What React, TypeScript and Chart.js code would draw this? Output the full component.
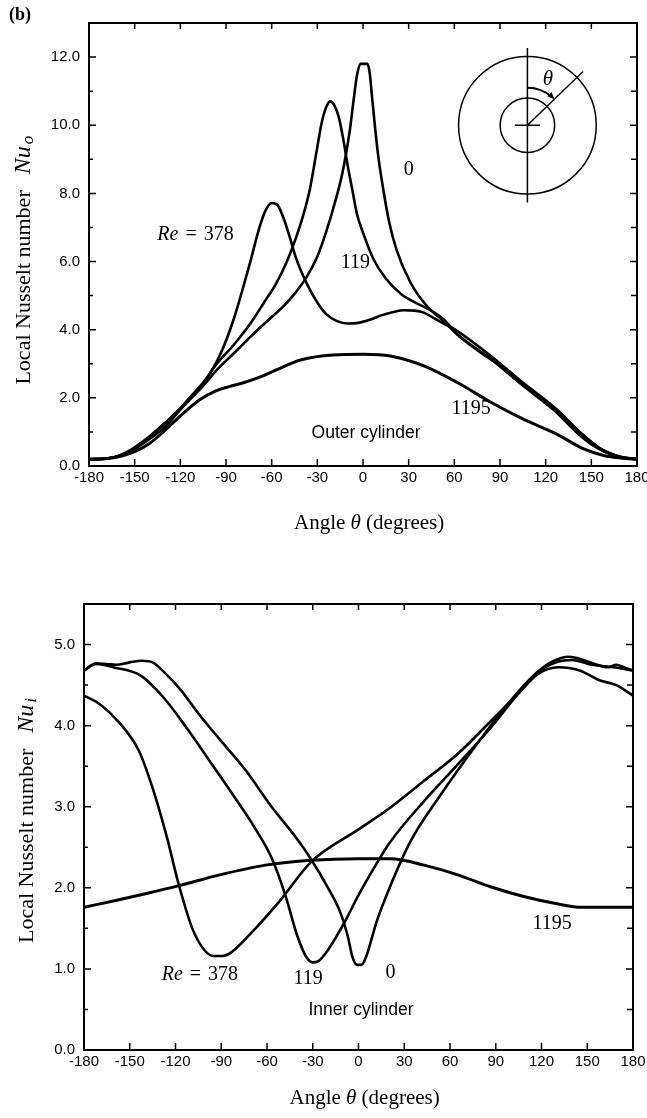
import React, { useEffect, useRef } from "react";
import { Chart, registerables } from "chart.js";

Chart.register(...registerables);

type Pt = [number, number];

// ---------- axis ticks ----------
const angleTicks = [-180, -150, -120, -90, -60, -30, 0, 30, 60, 90, 120, 150, 180];
const outerYMajor = [0, 2, 4, 6, 8, 10, 12];
const outerYMinor = [1, 3, 5, 7, 9, 11];
const innerYMajor = [0, 1, 2, 3, 4, 5];
const innerYMinor = [0.5, 1.5, 2.5, 3.5, 4.5];

// ---------- outer cylinder: local Nusselt number vs angle ----------
const outerRe0: Pt[] = [
  [-180, 0.2], [-168, 0.22], [-158, 0.33], [-150, 0.52], [-140, 0.85], [-130, 1.25], [-122, 1.6],
  [-114, 1.94], [-105, 2.35], [-96, 2.82], [-85, 3.3], [-74, 3.79], [-63, 4.25], [-52, 4.7],
  [-45, 5.05], [-37, 5.55], [-30, 6.15], [-24, 6.9], [-18, 7.8], [-14, 8.5], [-11, 9.2],
  [-8.5, 9.9], [-6, 10.8], [-4, 11.45], [-1.5, 11.8], [3, 11.8], [4.5, 11.5], [6, 10.8],
  [8, 9.9], [10, 9.1], [13, 8.2], [17, 7.2], [22, 6.35], [31, 5.4], [42, 4.69], [53, 4.25],
  [62, 3.85], [75, 3.4], [90, 2.94], [112, 2.16], [132, 1.43], [145, 0.9], [158, 0.46], [170, 0.26],
  [180, 0.2],
];
const outerRe119: Pt[] = [
  [-180, 0.2], [-168, 0.22], [-158, 0.35], [-150, 0.55], [-140, 0.88], [-130, 1.27], [-122, 1.6],
  [-114, 2.0], [-105, 2.45], [-96, 3.0], [-85, 3.55], [-74, 4.18], [-65, 4.8], [-57, 5.36],
  [-50, 6.0], [-44, 6.7], [-39, 7.4], [-35, 8.1], [-31, 9.1], [-27, 10.1], [-24, 10.55],
  [-21.5, 10.7], [-19, 10.6], [-16, 10.25], [-13, 9.6], [-10, 8.8], [-7, 8.1], [-4, 7.4],
  [0, 6.85], [7, 6.06], [15, 5.5], [25, 5.05], [35, 4.78], [44, 4.58], [53, 4.3], [62, 3.87],
  [84, 3.14], [105, 2.36], [127, 1.58], [140, 1.0], [153, 0.55], [165, 0.3], [180, 0.2],
];
const outerRe378: Pt[] = [
  [-180, 0.2], [-168, 0.22], [-158, 0.33], [-150, 0.5], [-140, 0.8], [-130, 1.15], [-122, 1.55],
  [-114, 1.95], [-107, 2.3], [-100, 2.75], [-93, 3.35], [-85, 4.3], [-79, 5.2], [-74, 6.0],
  [-68, 7.0], [-64, 7.5], [-60, 7.72], [-56, 7.65], [-52, 7.25], [-48, 6.7], [-44, 6.1],
  [-37, 5.36], [-30, 4.8], [-24, 4.45], [-17, 4.25], [-10, 4.18], [-3, 4.2], [5, 4.3], [12, 4.42],
  [20, 4.52], [27, 4.57], [34, 4.56], [40, 4.5], [48, 4.3], [62, 3.96], [84, 3.23], [105, 2.45],
  [127, 1.67], [140, 1.09], [149, 0.7], [160, 0.41], [170, 0.26], [180, 0.2],
];
const outerRe1195: Pt[] = [
  [-180, 0.2], [-168, 0.22], [-158, 0.3], [-150, 0.42], [-140, 0.67], [-130, 1.05], [-118, 1.55],
  [-107, 1.95], [-97, 2.2], [-88, 2.33], [-78, 2.45], [-67, 2.62], [-57, 2.82], [-41, 3.11],
  [-20, 3.26], [0, 3.28], [18, 3.23], [40, 2.94], [62, 2.45], [84, 1.87], [105, 1.38], [127, 0.94],
  [145, 0.5], [158, 0.31], [170, 0.23], [180, 0.2],
];

// ---------- inner cylinder: local Nusselt number vs angle ----------
const innerRe0: Pt[] = [
  [-180, 4.68], [-172, 4.77], [-165, 4.76], [-159, 4.75], [-150, 4.78], [-142, 4.8], [-135, 4.78],
  [-127, 4.65], [-117, 4.45], [-105, 4.15], [-91, 3.83], [-74, 3.45], [-57, 3.0], [-41, 2.62],
  [-31, 2.35], [-20, 2.0], [-12, 1.7], [-7, 1.4], [-4, 1.15], [-1, 1.05], [2, 1.05], [5, 1.15],
  [12, 1.59], [21, 2.03], [34, 2.57], [54, 3.15], [76, 3.73], [98, 4.27], [116, 4.64], [127, 4.79],
  [138, 4.85], [149, 4.8], [158, 4.74], [164, 4.72], [169, 4.75], [174, 4.72], [180, 4.68],
];
const innerRe119: Pt[] = [
  [-180, 4.68], [-172, 4.76], [-161, 4.72], [-143, 4.62], [-128, 4.35], [-113, 3.98], [-96, 3.52],
  [-81, 3.11], [-68, 2.74], [-57, 2.37], [-48, 1.91], [-40, 1.4], [-34, 1.14], [-30, 1.08],
  [-26, 1.1], [-22, 1.18], [-9, 1.58], [0, 1.91], [10, 2.24], [21, 2.57], [43, 3.07], [65, 3.52],
  [87, 3.98], [105, 4.4], [118, 4.66], [131, 4.79], [140, 4.81], [153, 4.75], [167, 4.72], [180, 4.68],
];
const innerRe378: Pt[] = [
  [-180, 4.37], [-170, 4.27], [-157, 4.04], [-144, 3.69], [-135, 3.23], [-126, 2.65], [-118, 2.05],
  [-109, 1.5], [-101, 1.23], [-95, 1.16], [-89, 1.16], [-83, 1.21], [-70, 1.45], [-52, 1.83],
  [-31, 2.32], [0, 2.72], [21, 2.99], [43, 3.32], [65, 3.65], [87, 4.06], [105, 4.4], [118, 4.64],
  [131, 4.72], [145, 4.68], [158, 4.56], [169, 4.5], [180, 4.37],
];
const innerRe1195: Pt[] = [
  [-180, 1.76], [-160, 1.84], [-139, 1.93], [-117, 2.03], [-91, 2.16], [-61, 2.28], [-31, 2.34],
  [0, 2.36], [21, 2.36], [43, 2.28], [65, 2.16], [87, 2.01], [109, 1.89], [131, 1.8], [146, 1.76],
  [165, 1.76], [180, 1.76],
];

// ---------- fonts ----------
const SERIF = "'Liberation Serif', 'Times New Roman', serif";
const SANS = "'Liberation Sans', Arial, sans-serif";

type Run = { text: string; font: string; gap?: number; dy?: number };
type Note = { runs: Run[]; at: Pt };

const roman = (t: string, s = 20, gap = 0): Run => ({ text: t, font: `${s}px ${SERIF}`, gap });
const ital = (t: string, s = 20, gap = 0, dy = 0): Run => ({ text: t, font: `italic ${s}px ${SERIF}`, gap, dy });
const sans = (t: string, s = 17.5): Run => ({ text: t, font: `${s}px ${SANS}` });
const reLabel = (n: string): Run[] => [ital("Re", 20), roman("=", 20, 7), roman(n, 20, 7)];

const outerNotes: Note[] = [
  { runs: reLabel("378"), at: [-110, 6.8] },
  { runs: [roman("119")], at: [-5, 5.95] },
  { runs: [roman("0")], at: [30, 8.68] },
  { runs: [roman("1195")], at: [71, 1.67] },
  { runs: [sans("Outer cylinder")], at: [2, 0.97] },
];
const innerNotes: Note[] = [
  { runs: reLabel("378"), at: [-104, 0.93] },
  { runs: [roman("119")], at: [-33, 0.88] },
  { runs: [roman("0")], at: [21, 0.95] },
  { runs: [roman("1195")], at: [127, 1.56] },
  { runs: [sans("Inner cylinder")], at: [1.6, 0.49] },
];

function drawRuns(ctx: CanvasRenderingContext2D, runs: Run[], x: number, y: number) {
  let total = 0;
  for (const r of runs) {
    ctx.font = r.font;
    total += ctx.measureText(r.text).width + (r.gap || 0);
  }
  let cx = x - total / 2;
  for (const r of runs) {
    ctx.font = r.font;
    cx += r.gap || 0;
    ctx.fillText(r.text, cx, y + (r.dy || 0));
    cx += ctx.measureText(r.text).width;
  }
}

type Decor = {
  yMajor: number[];
  yMinor: number[];
  notes: Note[];
  yTitle: Run[];
  yTitleX: number;
  yTitleAt: number;
  xTitleAt: number;
  xTitleOffset: number;
  inset?: boolean;
  panel?: boolean;
};

function makeDecor(cfg: Decor) {
  return {
    id: "decor",
    afterDraw(chart: any) {
      const { ctx, chartArea: a } = chart;
      const xs = chart.scales.x;
      const ys = chart.scales.y;
      ctx.save();
      ctx.strokeStyle = "#000";
      ctx.fillStyle = "#000";
      // frame
      ctx.lineWidth = 2;
      ctx.strokeRect(a.left, a.top, a.right - a.left, a.bottom - a.top);
      // inward ticks
      ctx.lineWidth = 1.5;
      ctx.beginPath();
      for (const v of angleTicks) {
        const px = xs.getPixelForValue(v);
        ctx.moveTo(px, a.bottom);
        ctx.lineTo(px, a.bottom - 7);
        ctx.moveTo(px, a.top);
        ctx.lineTo(px, a.top + 6);
      }
      for (const v of cfg.yMajor) {
        const py = ys.getPixelForValue(v);
        ctx.moveTo(a.left, py);
        ctx.lineTo(a.left + 7, py);
        ctx.moveTo(a.right, py);
        ctx.lineTo(a.right - 7, py);
      }
      for (const v of cfg.yMinor) {
        const py = ys.getPixelForValue(v);
        ctx.moveTo(a.left, py);
        ctx.lineTo(a.left + 4, py);
        ctx.moveTo(a.right, py);
        ctx.lineTo(a.right - 6, py);
      }
      ctx.stroke();

      // annotations
      ctx.textBaseline = "middle";
      ctx.textAlign = "left";
      for (const n of cfg.notes) {
        drawRuns(ctx, n.runs, xs.getPixelForValue(n.at[0]), ys.getPixelForValue(n.at[1]));
      }

      // x title
      drawRuns(
        ctx,
        [roman("Angle ", 21), ital("θ", 21), roman(" (degrees)", 21)],
        xs.getPixelForValue(cfg.xTitleAt),
        a.bottom + cfg.xTitleOffset
      );
      // y title
      ctx.save();
      ctx.translate(cfg.yTitleX, ys.getPixelForValue(cfg.yTitleAt));
      ctx.rotate(-Math.PI / 2);
      drawRuns(ctx, cfg.yTitle, 0, 0);
      ctx.restore();

      if (cfg.panel) {
        ctx.font = `bold 18px ${SERIF}`;
        ctx.textAlign = "left";
        ctx.fillText("(b)", 9, 15);
      }

      if (cfg.inset) {
        const unit = Math.abs(ys.getPixelForValue(1) - ys.getPixelForValue(0));
        const cx = xs.getPixelForValue(108);
        const cy = ys.getPixelForValue(10);
        const R = 2.02 * unit;
        const r = 0.8 * unit;
        const L = 2.27 * unit;
        ctx.lineWidth = 1.5;
        ctx.beginPath();
        ctx.arc(cx, cy, R, 0, Math.PI * 2);
        ctx.stroke();
        ctx.beginPath();
        ctx.arc(cx, cy, r, 0, Math.PI * 2);
        ctx.stroke();
        ctx.beginPath();
        ctx.moveTo(cx, cy - L);
        ctx.lineTo(cx, cy + L);
        ctx.moveTo(cx - 0.37 * unit, cy);
        ctx.lineTo(cx + 0.37 * unit, cy);
        const ang = (46 * Math.PI) / 180;
        ctx.moveTo(cx, cy);
        ctx.lineTo(cx + L * Math.sin(ang), cy - L * Math.cos(ang));
        ctx.stroke();
        // theta arc with arrow
        const ra = 1.1 * unit;
        const a0 = -Math.PI / 2;
        const aEnd = -Math.PI / 2 + ang;
        ctx.lineWidth = 2;
        ctx.beginPath();
        ctx.arc(cx, cy, ra, a0, aEnd - 0.08);
        ctx.stroke();
        const ex = cx + ra * Math.cos(aEnd);
        const ey = cy + ra * Math.sin(aEnd);
        const tx = -Math.sin(aEnd);
        const ty = Math.cos(aEnd);
        const nx = Math.cos(aEnd);
        const ny = Math.sin(aEnd);
        ctx.beginPath();
        ctx.moveTo(ex, ey);
        ctx.lineTo(ex - tx * 7 + nx * 3, ey - ty * 7 + ny * 3);
        ctx.lineTo(ex - tx * 7 - nx * 3, ey - ty * 7 - ny * 3);
        ctx.closePath();
        ctx.fill();
        ctx.textBaseline = "middle";
        drawRuns(ctx, [ital("θ", 21)], cx + 0.6 * unit, cy - 1.33 * unit);
      }
      ctx.restore();
    },
  };
}

function makeChart(
  canvas: HTMLCanvasElement,
  series: Pt[][],
  widths: number[],
  yMax: number,
  yMajor: number[],
  layout: { top: number; right: number; yW: number; xH: number; yPad: number },
  decor: Decor
) {
  return new Chart(canvas, {
    type: "line",
    data: {
      datasets: series.map((s, i) => ({
        data: s.map(([x, y]) => ({ x, y })),
        borderColor: "#000",
        borderWidth: widths[i],
        pointRadius: 0,
        fill: false,
        cubicInterpolationMode: "monotone" as const,
      })),
    },
    options: {
      responsive: false,
      animation: false,
      devicePixelRatio: 1,
      layout: { padding: { top: layout.top, right: layout.right, left: 0, bottom: 0 } },
      plugins: { legend: { display: false }, tooltip: { enabled: false } },
      scales: {
        x: {
          type: "linear",
          min: -180,
          max: 180,
          afterBuildTicks: (s: any) => {
            s.ticks = angleTicks.map((v) => ({ value: v }));
          },
          afterFit: (s: any) => {
            s.height = layout.xH;
            s.paddingLeft = 0;
            s.paddingRight = 0;
          },
          grid: { display: false, drawTicks: false },
          border: { display: false },
          ticks: {
            autoSkip: false,
            maxRotation: 0,
            minRotation: 0,
            padding: 3,
            color: "#000",
            font: { family: SANS, size: 15 },
            callback: (v: any) => String(v),
          },
        },
        y: {
          type: "linear",
          min: 0,
          max: yMax,
          afterBuildTicks: (s: any) => {
            s.ticks = yMajor.map((v) => ({ value: v }));
          },
          afterFit: (s: any) => {
            s.width = layout.yW;
            s.paddingTop = 0;
            s.paddingBottom = 0;
          },
          grid: { display: false, drawTicks: false },
          border: { display: false },
          ticks: {
            padding: layout.yPad,
            color: "#000",
            font: { family: SANS, size: 15 },
            callback: (v: any) => Number(v).toFixed(1),
          },
        },
      },
    } as any,
    plugins: [makeDecor(decor)],
  });
}

export default function App() {
  const topRef = useRef<HTMLCanvasElement>(null);
  const botRef = useRef<HTMLCanvasElement>(null);

  useEffect(() => {
    const c1 = makeChart(
      topRef.current!,
      [outerRe0, outerRe119, outerRe378, outerRe1195],
      [2.6, 2.6, 2.6, 3],
      13,
      outerYMajor,
      { top: 23, right: 10, yW: 89, xH: 545 - 466, yPad: 9 },
      {
        yMajor: outerYMajor,
        yMinor: outerYMinor,
        notes: outerNotes,
        yTitle: [roman("Local Nusselt number", 22), ital("Nu", 24, 16), ital("o", 17, 2, 5)],
        yTitleX: 24,
        yTitleAt: 6.04,
        xTitleAt: 4,
        xTitleOffset: 57,
        inset: true,
        panel: true,
      }
    );
    const c2 = makeChart(
      botRef.current!,
      [innerRe0, innerRe119, innerRe378, innerRe1195],
      [2.6, 2.6, 2.6, 3],
      5.5,
      innerYMajor,
      { top: 44, right: 14, yW: 84, xH: 558 - 490, yPad: 9 },
      {
        yMajor: innerYMajor,
        yMinor: innerYMinor,
        notes: innerNotes,
        yTitle: [roman("Local Nusselt number", 22), ital("Nu", 24, 16), ital("i", 17, 2, 5)],
        yTitleX: 27,
        yTitleAt: 2.83,
        xTitleAt: 4,
        xTitleOffset: 48,
      }
    );
    return () => {
      c1.destroy();
      c2.destroy();
    };
  }, []);

  return (
    <div
      style={{
        position: "absolute",
        left: 0,
        top: 0,
        width: 647,
        height: 1118,
        overflow: "hidden",
        background: "#fff",
      }}
    >
      <canvas ref={topRef} width={647} height={545} style={{ position: "absolute", left: 0, top: 0 }} />
      <canvas ref={botRef} width={647} height={558} style={{ position: "absolute", left: 0, top: 560 }} />
    </div>
  );
}
